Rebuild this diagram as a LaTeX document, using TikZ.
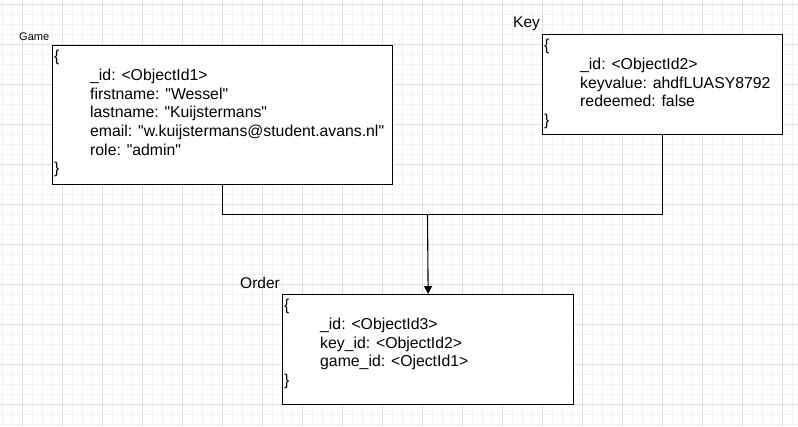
\documentclass[tikz,border=0pt]{standalone}
\usepackage{fontspec}
\setmainfont{Liberation Sans}[Ligatures=TeXOff]
\usetikzlibrary{arrows.meta}
\definecolor{gridminor}{HTML}{F3F3F3}
\definecolor{gridmajor}{HTML}{DEDEDE}
\begin{document}
\begin{tikzpicture}[x=1pt, y=-1pt]
\tikzstyle{entity}=[rectangle, draw=black, line width=1.3pt, fill=white, inner sep=0pt, anchor=north west]
\tikzstyle{fields}=[inner sep=0pt, anchor=north west, align=left, font=\fontsize{15.8}{18.7}\selectfont]
\tikzstyle{title}=[inner sep=0pt, anchor=base west, font=\fontsize{15.5}{17}\selectfont]
\tikzstyle{link}=[line width=1.1pt, draw=black]
\useasboundingbox (0,0) rectangle (798,426);
\fill[white] (0,0) rectangle (798,426);

% Background grid
\foreach \x in {2,12,...,798} \draw[gridminor, line width=0.8pt] (\x,0) -- (\x,426);
\foreach \y in {4,14,...,426} \draw[gridminor, line width=0.8pt] (0,\y) -- (798,\y);
\foreach \x in {22,62,...,798} \draw[gridmajor, line width=0.8pt] (\x,0) -- (\x,426);
\foreach \y in {4,44,...,426} \draw[gridmajor, line width=0.8pt] (0,\y) -- (798,\y);

% Game document
\node[title, font=\fontsize{11}{12}\selectfont] (gamelabel) at (19,40) {Game};
\node[entity, minimum width=340pt, minimum height=139pt] (game) at (52,45) {};
\node[fields] (gametext) at ([xshift=2pt, yshift=-5pt]game.north west) {\{\\
\hspace*{36pt}\_id: <ObjectId1>\\
\hspace*{36pt}firstname: "Wessel"\\
\hspace*{36pt}lastname: "Kuijstermans"\\
\hspace*{36pt}email: "w.kuijstermans@student.avans.nl"\\
\hspace*{36pt}role: "admin"\\
\}};

% Key document
\node[title] (keylabel) at (513,27) {Key};
\node[entity, minimum width=240pt, minimum height=100pt] (key) at (542,34) {};
\node[fields] (keytext) at ([xshift=2pt, yshift=-5pt]key.north west) {\{\\
\hspace*{36pt}\_id: <ObjectId2>\\
\hspace*{36pt}keyvalue: ahdfLUASY8792\\
\hspace*{36pt}redeemed: false\\
\}};

% Order document
\node[title] (orderlabel) at (240,288) {Order};
\node[entity, minimum width=291pt, minimum height=110pt] (order) at (282,294) {};
\node[fields] (ordertext) at ([xshift=2pt, yshift=-5pt]order.north west) {\{\\
\hspace*{36pt}\_id: <ObjectId3>\\
\hspace*{36pt}key\_id: <ObjectId2>\\
\hspace*{36pt}game\_id: <OjectId1>\\
\}};

% Connect documents
\coordinate (join) at (427.5,214.5);
\draw[link] (game.south) |- (join) -| (key.south);
\draw[link, -{Triangle[length=8pt, width=8pt]}] (join) -- (order.north);
\end{tikzpicture}
\end{document}
